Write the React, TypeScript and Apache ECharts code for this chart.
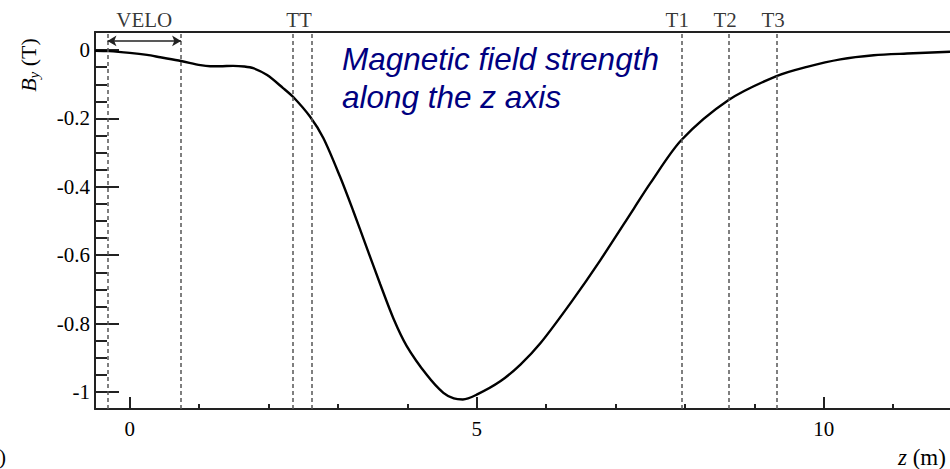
import React, { useEffect, useRef } from "react";
import * as echarts from "echarts";

// Vertical field component B_y along the beam axis z
const fieldZ = [
  -0.5, -0.3, 0.0, 0.25, 0.44, 0.74, 1.02, 1.16, 1.3, 1.49, 1.65, 1.78, 1.98,
  2.21, 2.36, 2.6, 2.79, 3.03, 3.22, 3.41, 3.61, 3.8, 3.99, 4.28, 4.52, 4.67,
  4.8, 5.0, 5.34, 5.63, 5.92, 6.37, 6.78, 7.26, 7.5, 7.95, 8.63, 9.32, 9.76,
  10.24, 10.72, 11.2, 11.82,
];
const fieldBy = [
  -0.002, -0.003, -0.008, -0.014, -0.021, -0.032, -0.044, -0.047, -0.047,
  -0.046, -0.048, -0.053, -0.073, -0.111, -0.138, -0.195, -0.257, -0.37,
  -0.47, -0.575, -0.685, -0.785, -0.865, -0.95, -1.003, -1.019, -1.022,
  -1.008, -0.969, -0.92, -0.857, -0.735, -0.615, -0.465, -0.39, -0.263,
  -0.146, -0.076, -0.049, -0.027, -0.015, -0.01, -0.005,
];

// Tracking stations: dashed planes and their names
const detectorPlanes = [-0.32, 0.74, 2.35, 2.615, 7.95, 8.63, 9.32];
const detectorNames = ["VELO", "TT", "T1", "T2", "T3"];
const detectorLabelZ = [0.21, 2.44, 7.89, 8.58, 9.27];
const veloSpan = [-0.32, 0.74];
const veloArrowBy = 0.027;

// Axis ranges and ticks
const zMin = -0.5;
const zMax = 11.82;
const byMin = -1.05;
const byMax = 0.053;
const zMajorTicks = [0, 5, 10];
const zMinorTicks = [1, 2, 3, 4, 6, 7, 8, 9, 11];
const byMajorTicks = [0, -0.2, -0.4, -0.6, -0.8, -1];
const byMinorTicks = [
  -0.05, -0.1, -0.15, -0.25, -0.3, -0.35, -0.45, -0.5, -0.55, -0.65, -0.7,
  -0.75, -0.85, -0.9, -0.95,
];

const SERIF = "'Liberation Serif', 'DejaVu Serif', serif";
const SANS = "'Liberation Sans', Arial, sans-serif";
const AXIS_COLOR = "#222";

export default function App() {
  const ref = useRef<HTMLDivElement>(null);

  useEffect(() => {
    if (!ref.current) return;
    const chart = echarts.init(ref.current, undefined, { renderer: "svg" });

    const axisLine = {
      show: true,
      onZero: false,
      lineStyle: { color: AXIS_COLOR, width: 2 },
    };
    const hiddenLine = { show: false, onZero: false };

    chart.setOption({
      animation: false,
      backgroundColor: "#fff",
      grid: { left: 95, right: 0, top: 32, bottom: 60 },
      xAxis: [
        {
          type: "value",
          position: "bottom",
          min: zMin,
          max: zMax,
          axisLine,
          axisTick: {
            show: true,
            inside: true,
            length: 12,
            customValues: zMajorTicks,
            lineStyle: { color: AXIS_COLOR, width: 2 },
          },
          axisLabel: {
            show: true,
            customValues: zMajorTicks,
            margin: 9,
            fontFamily: SERIF,
            fontSize: 21,
            color: "#000",
          },
          splitLine: { show: false },
        },
        {
          type: "value",
          position: "bottom",
          min: zMin,
          max: zMax,
          axisLine: hiddenLine,
          axisTick: {
            show: true,
            inside: true,
            length: 5,
            customValues: zMinorTicks,
            lineStyle: { color: AXIS_COLOR, width: 2 },
          },
          axisLabel: { show: false },
          splitLine: { show: false },
        },
        {
          type: "value",
          position: "top",
          min: zMin,
          max: zMax,
          axisLine,
          axisTick: { show: false },
          axisLabel: { show: false },
          splitLine: { show: false },
        },
      ],
      yAxis: [
        {
          type: "value",
          position: "left",
          min: byMin,
          max: byMax,
          axisLine,
          axisTick: {
            show: true,
            inside: true,
            length: 24,
            customValues: byMajorTicks,
            lineStyle: { color: AXIS_COLOR, width: 2 },
          },
          axisLabel: {
            show: true,
            customValues: byMajorTicks,
            margin: 5,
            fontFamily: SERIF,
            fontSize: 21,
            color: "#000",
            formatter: (v: number) => String(Math.round(v * 10) / 10),
          },
          splitLine: { show: false },
        },
        {
          type: "value",
          position: "left",
          min: byMin,
          max: byMax,
          axisLine: hiddenLine,
          axisTick: {
            show: true,
            inside: true,
            length: 12,
            customValues: byMinorTicks,
            lineStyle: { color: AXIS_COLOR, width: 2 },
          },
          axisLabel: { show: false },
          splitLine: { show: false },
        },
      ],
      series: [
        {
          type: "scatter",
          name: "stations",
          silent: true,
          clip: false,
          symbolSize: 1,
          itemStyle: { color: "rgba(0,0,0,0)" },
          data: detectorNames.map((name, i) => ({
            name,
            value: [detectorLabelZ[i], byMax],
          })),
          label: {
            show: true,
            position: "top",
            distance: 1,
            formatter: "{b}",
            fontFamily: SERIF,
            fontSize: 21,
            color: "#000",
          },
          markLine: {
            silent: true,
            animation: false,
            symbol: ["none", "none"],
            label: { show: false },
            lineStyle: { color: "#555", width: 1.5, type: [4, 3] },
            data: [
              ...detectorPlanes.map((z) => ({ xAxis: z })),
              [
                {
                  coord: [veloSpan[0], veloArrowBy],
                  symbol: "arrow",
                  symbolSize: [8, 9],
                  lineStyle: { color: "#222", width: 1.5, type: "solid" },
                },
                {
                  coord: [veloSpan[1], veloArrowBy],
                  symbol: "arrow",
                  symbolSize: [8, 9],
                  lineStyle: { color: "#222", width: 1.5, type: "solid" },
                },
              ],
            ],
          },
        },
        {
          type: "line",
          name: "By",
          silent: true,
          smooth: 0.3,
          symbol: "none",
          lineStyle: { color: "#000", width: 2.4 },
          data: fieldZ.map((z, i) => [z, fieldBy[i]]),
          z: 3,
        },
      ],
      graphic: [
        {
          type: "text",
          x: 28,
          y: 65,
          rotation: Math.PI / 2,
          style: {
            text: "{b|B}{s|y}{n| (T)}",
            align: "center",
            verticalAlign: "middle",
            fill: "#000",
            rich: {
              b: { fontFamily: SERIF, fontStyle: "italic", fontSize: 22, lineHeight: 26 },
              s: {
                fontFamily: SERIF,
                fontStyle: "italic",
                fontSize: 15,
                lineHeight: 15,
                verticalAlign: "bottom",
              },
              n: { fontFamily: SERIF, fontSize: 22, lineHeight: 26 },
            },
          },
        },
        {
          type: "text",
          x: 898,
          y: 457,
          style: {
            text: "{i|z}{n| (m)}",
            align: "left",
            verticalAlign: "middle",
            fill: "#000",
            rich: {
              i: { fontFamily: SERIF, fontStyle: "italic", fontSize: 23 },
              n: { fontFamily: SERIF, fontSize: 23 },
            },
          },
        },
        {
          type: "text",
          x: -1,
          y: 457,
          style: {
            text: ")",
            align: "left",
            verticalAlign: "middle",
            font: `21px ${SERIF}`,
            fill: "#000",
          },
        },
        {
          type: "text",
          x: 342,
          y: 40,
          style: {
            text: "Magnetic field strength\nalong the z axis",
            align: "left",
            verticalAlign: "top",
            font: `italic 31.5px ${SANS}`,
            lineHeight: 38,
            fill: "#000080",
          },
        },
      ],
    });

    return () => chart.dispose();
  }, []);

  return (
    <div
      ref={ref}
      style={{ position: "fixed", left: 0, top: 0, width: 950, height: 469 }}
    />
  );
}
